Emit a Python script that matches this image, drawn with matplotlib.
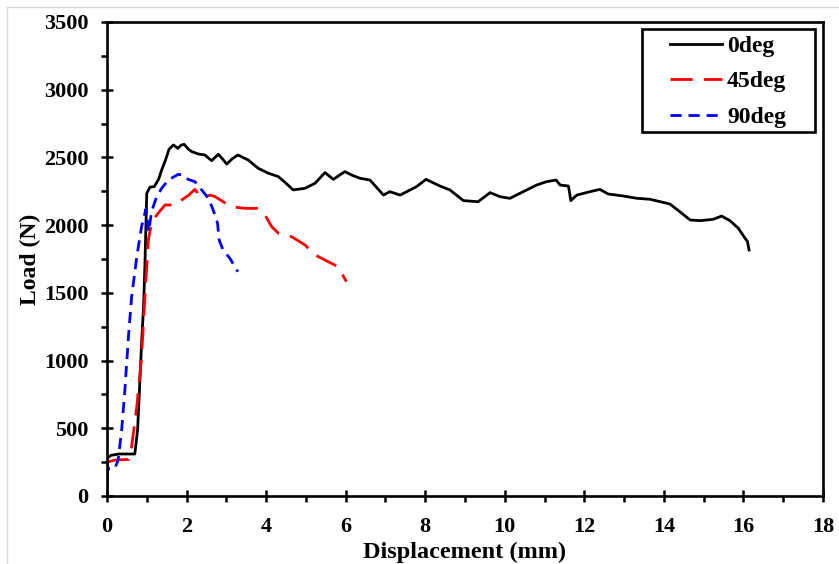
import matplotlib
matplotlib.use('Agg')
import matplotlib.pyplot as plt
from matplotlib.ticker import MultipleLocator
from matplotlib.lines import Line2D
from matplotlib.patches import Rectangle

plt.rcParams['font.family'] = ['Liberation Serif', 'DejaVu Serif']
plt.rcParams['font.weight'] = 'bold'

# 0deg specimen
x0 = [0.0, 0.0, 0.10, 0.30, 0.70, 0.77, 0.82, 0.87, 0.92, 0.955, 1.0, 1.08, 1.19, 1.30, 1.375,
      1.47, 1.56, 1.67, 1.78, 1.86, 1.94, 2.05, 2.13, 2.30, 2.46, 2.63, 2.80, 2.90, 3.01, 3.15,
      3.29, 3.55, 3.80, 4.06, 4.31, 4.52, 4.68, 4.98, 5.23, 5.48, 5.69, 5.85, 5.98, 6.15, 6.36,
      6.61, 6.95, 7.11, 7.37, 7.78, 8.02, 8.37, 8.62, 8.96, 9.33, 9.63, 9.88, 10.13, 10.38,
      10.80, 11.05, 11.29, 11.39, 11.60, 11.66, 11.81, 12.14, 12.39, 12.60, 12.98, 13.32,
      13.65, 14.15, 14.40, 14.66, 14.91, 15.24, 15.45, 15.66, 15.87, 16.04, 16.10, 16.14]
y0 = [0, 278, 300, 310, 310, 487, 800, 1127, 1400, 1718, 2235, 2280, 2285, 2340, 2407,
      2480, 2560, 2592, 2567, 2590, 2597, 2560, 2543, 2525, 2518, 2476, 2523, 2490, 2451, 2490,
      2518, 2481, 2420, 2383, 2358, 2304, 2260, 2272, 2309, 2388, 2338, 2370, 2395, 2370, 2346,
      2333, 2222, 2247, 2222, 2284, 2338, 2289, 2260, 2181, 2173, 2240, 2210, 2198, 2235,
      2296, 2321, 2333, 2296, 2289, 2181, 2222, 2247, 2264, 2230, 2215, 2198,
      2191, 2156, 2099, 2038, 2033, 2043, 2067, 2033, 1977, 1903, 1880, 1816]

# 45deg specimen
x45 = [0.0, 0.0, 0.05, 0.20, 0.55, 0.62, 0.75, 0.87, 0.955, 1.04, 1.12, 1.25, 1.46, 1.71,
       1.88, 2.05, 2.21, 2.38, 2.59, 2.72, 2.92, 3.13, 3.47, 3.80, 3.97, 4.14, 4.31, 4.64,
       4.98, 5.23, 5.56, 5.81, 6.02]
y45 = [0, 241, 254, 265, 270, 364, 660, 1029, 1472, 1890, 2014, 2075, 2149, 2149,
       2186, 2220, 2264, 2198, 2222, 2210, 2173, 2136, 2124, 2124, 2075, 1989, 1940, 1915,
       1853, 1780, 1730, 1693, 1582]

# 90deg specimen
x90 = [0.0, 0.0, 0.05, 0.20, 0.28, 0.37, 0.45, 0.54, 0.62, 0.75, 0.87, 0.98, 1.05, 1.12,
       1.25, 1.375, 1.54, 1.79, 1.92, 2.04, 2.21, 2.38, 2.55, 2.67, 2.78, 2.82, 2.92, 3.09, 3.29]
y90 = [0, 180, 204, 204, 266, 487, 783, 1176, 1472, 1767, 1989, 2120, 1950, 2100,
       2210, 2272, 2333, 2375, 2370, 2338, 2321, 2260, 2198, 2112, 2014, 1890, 1816, 1755, 1656]

W, H = 839, 564
fig = plt.figure(figsize=(W / 100, H / 100), dpi=100)
ax = fig.add_axes([0.1275, 0.1206, 0.8535, 0.8404])

ax.plot(x0, y0, color='black', lw=2.0, label='0deg')
ax.plot(x45, y45, color='red', lw=2.0, dashes=(8, 4), label='45deg')
ax.plot(x90, y90, color='blue', lw=2.0, dashes=(4, 2.5), label='90deg')

ax.set_xlim(0, 18)
ax.set_ylim(0, 3500)
ax.xaxis.set_major_locator(MultipleLocator(2))
ax.xaxis.set_minor_locator(MultipleLocator(1))
ax.yaxis.set_major_locator(MultipleLocator(500))
ax.yaxis.set_minor_locator(MultipleLocator(250))
ax.tick_params(which='major', direction='inout', length=8.6, width=1.8, labelsize=16)
ax.tick_params(which='minor', direction='out', length=4.3, width=1.8)
ax.tick_params(axis='y', which='major', pad=9)
ax.tick_params(axis='x', which='major', pad=10.5)
for s in ax.spines.values():
    s.set_linewidth(1.9)

ax.set_xlabel('Displacement (mm)', fontsize=17.5, fontweight='bold', labelpad=4)
ax.set_ylabel('Load (N)', fontsize=17, fontweight='bold', labelpad=2)

# legend: contents centred in a wide hand-placed frame, as in the original
leg = ax.legend(loc='center', bbox_to_anchor=(728.4 / W, 1 - 81.7 / H),
                bbox_transform=fig.transFigure, frameon=False,
                fontsize=17, handlelength=2.2, handletextpad=0.2, labelspacing=0.6,
                borderpad=0)
fig.add_artist(Rectangle((642 / W, 1 - 131.7 / H), 173 / W, 102.7 / H,
                         transform=fig.transFigure, fill=False, edgecolor='black',
                         lw=1.9, zorder=5))

# faint page border seen on the left and top
fig.add_artist(Line2D([7 / W, 7 / W], [0, 1 - 7 / H], color='#d9d9d9', lw=1))
fig.add_artist(Line2D([7 / W, 1], [1 - 7 / H, 1 - 7 / H], color='#d9d9d9', lw=1))

fig.savefig('out.png', dpi=100)
